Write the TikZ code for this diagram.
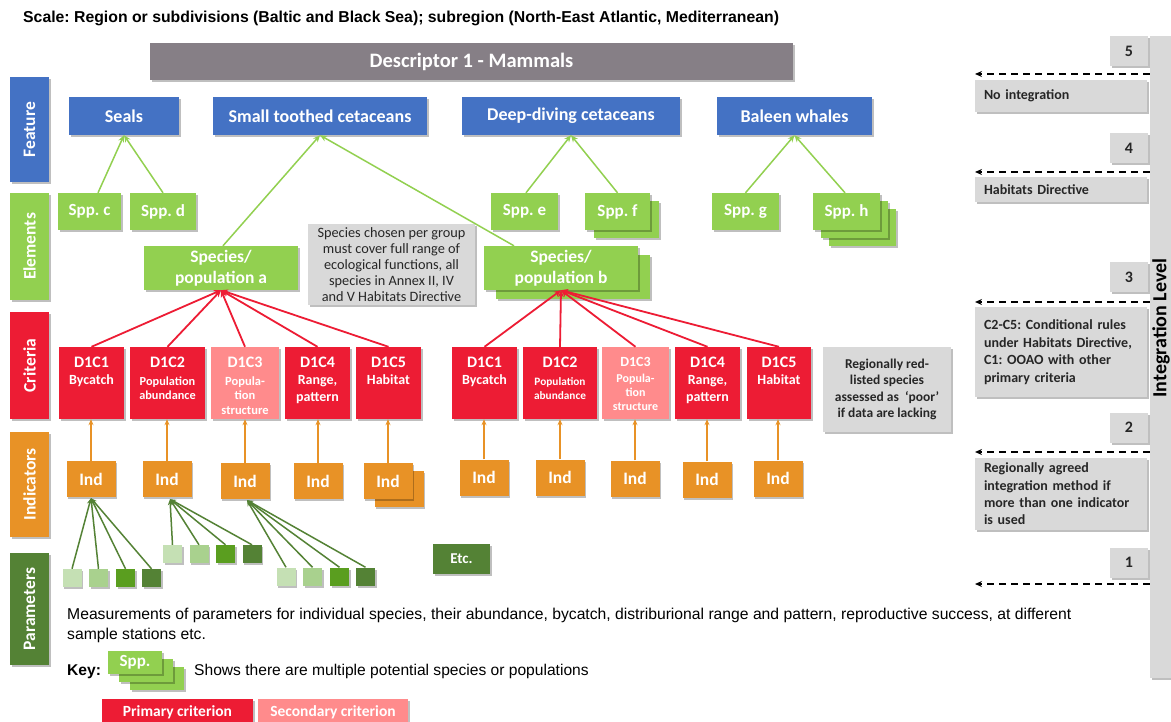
\documentclass[tikz,border=0pt]{standalone}
\usepackage{fontspec}
\setmainfont{Liberation Sans}
\newfontfamily\calib{Carlito}
\usetikzlibrary{arrows.meta,shadows,calc}
\definecolor{cBlue}{HTML}{4472C4}
\definecolor{cGreen}{HTML}{92D050}
\definecolor{cRed}{HTML}{ED1C34}
\definecolor{cPink}{HTML}{FF8B8C}
\definecolor{cOrange}{HTML}{E89226}
\definecolor{cDGreen}{HTML}{548235}
\definecolor{cDesc}{HTML}{867F86}
\definecolor{cLGray}{HTML}{D9D9D9}
\definecolor{cPa}{HTML}{C5E0B4}
\definecolor{cPb}{HTML}{A9D18E}
\definecolor{cPc}{HTML}{5A9E1F}
\definecolor{cTxt}{HTML}{262626}
\newcommand\fs[2]{\fontsize{#1}{#2}\selectfont}
\frenchspacing
\tikzset{
  base/.style={rectangle, inner sep=0pt, align=center, text=white, font=\calib\bfseries},
  shd/.style={drop shadow={shadow xshift=1.5pt, shadow yshift=-2pt, opacity=0.25, fill=black}},
  sz/.style 2 args={minimum width=#1pt, minimum height=#2pt},
  blu/.style={base, shd, fill=cBlue},
  grn/.style={base, shd, fill=cGreen},
  red/.style={base, shd, fill=cRed},
  pnk/.style={base, shd, fill=cPink},
  org/.style={base, shd, fill=cOrange},
  dgr/.style={base, shd, fill=cDGreen},
  gry/.style={base, shd, fill=cLGray, text=cTxt},
  lbl/.style={base, shd, rotate=90, font=\calib\bfseries\fs{17.5}{20}},
  feat/.style={blu, font=\calib\bfseries\fs{18}{20}},
  spp/.style={grn, font=\calib\bfseries\fs{17}{20}},
  pop/.style={grn, font=\calib\bfseries\fs{17.5}{21}},
  ind/.style={org, sz={49}{36}, font=\calib\bfseries\fs{17.5}{20}},
  ctxt/.style={anchor=north, inner sep=0pt, align=center, text=white, font=\calib\bfseries\fs{14}{17}},
  par/.style={shd, rectangle, inner sep=0pt, sz={19}{18}},
  num/.style={gry, sz={38}{30}, font=\calib\bfseries\fs{16}{18}},
  rbox/.style={gry, minimum width=172pt, text width=154pt, align=left, font=\calib\bfseries\fs{14}{17}},
  garr/.style={draw=cGreen, line width=1.5pt, -{Stealth[length=7pt,width=6pt]}},
  rarr/.style={draw=cRed, line width=1.8pt, -{Stealth[length=7pt,width=6pt]}},
  oarr/.style={draw=cOrange, line width=1.8pt, -{Stealth[length=6pt,width=5pt]}},
  parr/.style={draw=cDGreen, line width=1.5pt, -{Stealth[length=6pt,width=5pt]}},
  darr/.style={draw=black, line width=1.5pt, dash pattern=on 7pt off 5pt, -{Stealth[length=7pt,width=6pt]}}
}
\begin{document}
\begin{tikzpicture}[x=1pt,y=-1pt]
\useasboundingbox (0,0) rectangle (1171,722);
\clip (0,0) rectangle (1171,722);
\fill[white] (0,0) rectangle (1171,722);

% title
\node[anchor=base west, inner sep=0pt, font=\bfseries\fs{15.8}{18}] (title) at (23,23)
  {Scale: Region or subdivisions (Baltic and Black Sea); subregion (North-East Atlantic, Mediterranean)};
\node[base, shd, fill=cDesc, sz={643}{37}, font=\calib\bfseries\fs{20.5}{22}] (desc) at (471.5,61.5) {Descriptor 1 - Mammals};

% left labels
\node[lbl, fill=cBlue, sz={105}{39}] (lfeat) at (29.5,129.5) {Feature};
\node[lbl, fill=cGreen, sz={107}{39}] (lelem) at (29.5,246.5) {Elements};
\node[lbl, fill=cRed, sz={107}{39}] (lcrit) at (29.5,365.5) {Criteria};
\node[lbl, fill=cOrange, sz={105}{39}] (lind) at (29.5,484.5) {Indicators};
\node[lbl, fill=cDGreen, sz={112}{39}] (lpar) at (29.5,609) {Parameters};

% feature row
\node[feat, sz={110}{38}] (seals) at (124,116) {Seals};
\node[feat, sz={214}{38}] (stc) at (320,116) {Small toothed cetaceans};
\node[feat, sz={218}{38}] (ddc) at (571,116) {Deep-diving cetaceans};
\node[feat, sz={155}{38}] (baleen) at (794.5,116) {Baleen whales};

% elements row
\node[spp, sz={63}{37}] (sppc) at (89.5,211.5) {Spp. c};
\node[spp, sz={66}{37}] (sppd) at (163,211.5) {Spp. d};
\node[spp, sz={67}{37}] (sppe) at (524.5,211.5) {Spp. e};
\node[spp, sz={65}{37}] (sppfb) at (626.5,219.5) {};
\node[spp, sz={65}{37}] (sppf) at (617.5,211.5) {Spp. f};
\node[spp, sz={67}{37}] (sppg) at (745.5,211.5) {Spp. g};
\node[spp, sz={67}{37}] (spphc) at (862.5,227.5) {};
\node[spp, sz={67}{37}] (spphb) at (854.5,219.5) {};
\node[spp, sz={67}{37}] (spph) at (846.5,211.5) {Spp. h};
\node[pop, sz={154}{44}] (popa) at (221,268) {Species/\\population a};
\node[pop, sz={154}{44}] (popbb) at (573,277) {};
\node[pop, sz={154}{44}] (popb) at (561,268) {Species/\\population b};
\node[gry, sz={167}{81}, font=\calib\fs{14.3}{16}] (note1) at (391.5,264.5)
  {Species chosen per group\\must cover full range of\\ecological functions, all\\species in Annex II, IV\\and V Habitats Directive};

% green arrows
\draw[garr] ([xshift=8.5pt]sppc.north) -- (seals.south);
\draw[garr] (sppd.north) -- (seals.south);
\draw[garr] ([xshift=2pt]popa.north) -- (stc.south);
\draw[garr] ([xshift=-47pt]popb.north) -- (stc.south);
\draw[garr] ([xshift=1.5pt]sppe.north) -- (ddc.south);
\draw[garr] (sppf.north) -- (ddc.south);
\draw[garr] (sppg.north) -- (baleen.south);
\draw[garr] ([xshift=-1.5pt]spph.north) -- (baleen.south);

% criteria boxes
\foreach \n/\x/\w/\s in {la1/91.5/65/red, la2/167.5/75/red, la3/245/68/pnk, la4/317.5/65/red, la5/388.5/65/red,
                         rb1/484.5/65/red, rb2/560/74/red, rb3/635.5/67/pnk, rb4/707.5/65/red, rb5/779/64/red}
  \node[\s, sz={\w}{72}] (\n) at (\x,383) {};
% criteria texts
\node[ctxt] (tla1) at ([yshift=-10pt]la1.north) {{\fs{16}{18}D1C1}\\Bycatch};
\node[ctxt, font=\calib\bfseries\fs{12.3}{14}] (tla2) at ([yshift=-10pt]la2.north) {{\fs{16}{18}D1C2}\\[4pt]Population\\abundance};
\node[ctxt, font=\calib\bfseries\fs{12.5}{14.5}] (tla3) at ([yshift=-10pt]la3.north) {{\fs{16}{18}D1C3}\\[3.5pt]Popula-\\tion\\structure};
\node[ctxt] (tla4) at ([yshift=-10pt]la4.north) {{\fs{16}{18}D1C4}\\Range,\\pattern};
\node[ctxt] (tla5) at ([yshift=-10pt]la5.north) {{\fs{16}{18}D1C5}\\Habitat};
\node[ctxt] (trb1) at ([yshift=-10pt]rb1.north) {{\fs{16}{18}D1C1}\\Bycatch};
\node[ctxt, font=\calib\bfseries\fs{11.3}{14}] (trb2) at ([yshift=-10pt]rb2.north) {{\fs{16}{18}D1C2}\\[4pt]Population\\abundance};
\node[ctxt, font=\calib\bfseries\fs{12}{14}] (trb3) at ([yshift=-10pt]rb3.north) {{\fs{14}{16}D1C3}\\[2pt]Popula-\\tion\\structure};
\node[ctxt] (trb4) at ([yshift=-10pt]rb4.north) {{\fs{16}{18}D1C4}\\Range,\\pattern};
\node[ctxt] (trb5) at ([yshift=-10pt]rb5.north) {{\fs{16}{18}D1C5}\\Habitat};

% red arrows
\foreach \n in {la1,la2,la3,la4,la5} \draw[rarr] (\n.north) -- (popa.south);
\foreach \n in {rb1,rb2,rb3,rb4,rb5} \draw[rarr] (\n.north) -- (popb.south);

\node[gry, sz={128}{85}, font=\calib\bfseries\fs{13.5}{16.3}] (note2) at (887,389.5)
  {Regionally red-\\listed species\\assessed as~~‘poor’\\if data are lacking};

% indicators
\node[ind] (ia1) at (91,479) {Ind};
\node[ind] (ia2) at (167,479) {Ind};
\node[ind] (ia3) at (245,481) {Ind};
\node[ind] (ia4) at (318,481) {Ind};
\node[ind] (ia5b) at (399,489) {};
\node[ind] (ia5) at (388,481) {Ind};
\node[ind] (ib1) at (484,477.5) {Ind};
\node[ind] (ib2) at (560,477.5) {Ind};
\node[ind] (ib3) at (635,478.5) {Ind};
\node[ind] (ib4) at (707,479.5) {Ind};
\node[ind] (ib5) at (778,478.5) {Ind};
\foreach \i/\c in {ia1/la1, ia2/la2, ia3/la3, ia4/la4, ia5/la5, ib1/rb1, ib2/rb2, ib3/rb3, ib4/rb4, ib5/rb5}
  \draw[oarr] (\i.north) -- (\i.north |- \c.south);

% parameters
\foreach \n/\x/\y/\c in {pa1/72/578/cPa, pa2/98.5/578/cPb, pa3/125.5/578/cPc, pa4/151.5/578/cDGreen,
                         pb1/172.5/554/cPa, pb2/199/554/cPb, pb3/225.5/554/cPc, pb4/252/554/cDGreen,
                         pc1/286/576.5/cPa, pc2/312.5/576.5/cPb, pc3/339.5/576.5/cPc, pc4/365.5/576.5/cDGreen}
  \node[par, fill=\c] (\n) at (\x,\y) {};
\foreach \n in {pa1,pa2,pa3,pa4} \draw[parr] (\n.north) -- ([yshift=-1pt]ia1.south);
\foreach \n in {pb1,pb2,pb3,pb4} \draw[parr] (\n.north) -- ([xshift=3pt,yshift=-2pt]ia2.south);
\foreach \n in {pc1,pc2,pc3,pc4} \draw[parr] (\n.north) -- ([xshift=2pt,yshift=-1pt]ia3.south);
\node[dgr, sz={57}{30}, font=\calib\bfseries\fs{15}{17}] (etc) at (461.5,559) {Etc.};

% bottom texts
\node[anchor=base west, inner sep=0pt, align=left, font=\fs{15.7}{20}] (meas) at (67,639)
  {Measurements of parameters for individual species, their abundance, bycatch, distriburional range and pattern, reproductive success, at different\\sample stations etc.};
\node[anchor=base west, inner sep=0pt, font=\bfseries\fs{15.6}{18}] (key) at (67,675.5) {Key:};
\node[grn, sz={54}{23}] (kc) at (157,678.5) {};
\node[grn, sz={54}{23}] (kb) at (146,670.5) {};
\node[grn, sz={54}{23}, font=\calib\bfseries\fs{17}{18}] (ka) at (135,662.5) {Spp.};
\node[anchor=base west, inner sep=0pt, font=\fs{15.6}{18}] (keyt) at (194,675.5) {Shows there are multiple potential species or populations};
\node[red, sz={151}{26}, font=\calib\bfseries\fs{15.5}{17}] (prim) at (177.5,712) {Primary criterion};
\node[pnk, sz={150}{26}, font=\calib\bfseries\fs{15.5}{17}] (sec) at (333,712) {Secondary criterion};

% right panel
\node[base, shd, fill=cLGray, sz={30}{642}] (bar) at (1165,357) {};
\node[rotate=90, inner sep=0pt, font=\calib\bfseries\fs{20}{22}, text=black] (intl) at (1161,328) {Integration Level};
\node[num] (n5) at (1129,51) {5};
\node[num] (n4) at (1129,148) {4};
\node[num] (n3) at (1129,277.5) {3};
\node[num] (n2) at (1129,427.5) {2};
\node[num] (n1) at (1129,562.5) {1};
\node[rbox, minimum height=32pt] (r5) at (1061,96) {No integration};
\node[rbox, minimum height=25pt] (r4) at (1061,189.5) {Habitats Directive};
\node[rbox, minimum height=90pt, font=\calib\bfseries\fs{14}{17.5}] (r3) at (1061,352)
  {C2-C5: Conditional rules\\under Habitats Directive,\\C1: OOAO with other\\primary criteria};
\node[rbox, minimum height=72pt, font=\calib\bfseries\fs{14}{17.3}] (r2) at (1061,494)
  {Regionally agreed\\integration method if\\more than one indicator\\is used};
\coordinate (a5) at (975,74);
\coordinate (a4) at (975,172);
\coordinate (a3) at (975,302);
\coordinate (a2) at (975,452);
\coordinate (a1) at (975,584);
\foreach \a in {a5,a4,a3,a2,a1} \draw[darr] (\a -| bar.west) -- (\a);
\end{tikzpicture}
\end{document}
